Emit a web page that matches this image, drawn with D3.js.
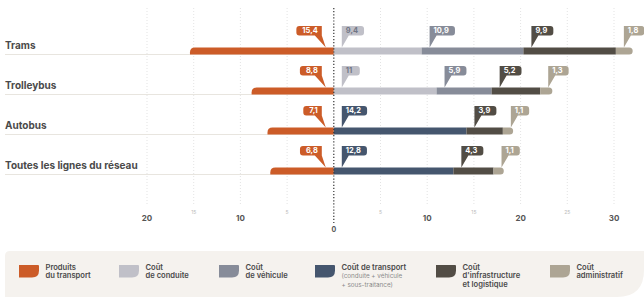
<!DOCTYPE html>
<html>
<head>
<meta charset="utf-8">
<script src="https://cdn.jsdelivr.net/npm/d3@7"></script>
<style>
  body { margin: 0; background: #fff; }
  svg { display: block; font-family: Inter, "DejaVu Sans", sans-serif; }
</style>
</head>
<body>
<div class="chart"></div>
<script>
var categories = ["Trams", "Trolleybus", "Autobus", "Toutes les lignes du réseau"];
var produits = [15.4, 8.8, 7.1, 6.8];
var conduite = [9.4, 11, null, null];
var vehicule = [10.9, 5.9, null, null];
var transport = [null, null, 14.2, 12.8];
var infra = [9.9, 5.2, 3.9, 4.3];
var admin = [1.8, 1.3, 1.1, 1.1];
var ticksMajor = [-20, -10, 10, 20, 30];
var ticksMinor = [-15, -5, 5, 15, 25];

var series = [
  { key: "conduite", values: conduite, color: "#C0C0C8", text: "#707585" },
  { key: "vehicule", values: vehicule, color: "#878C99", text: "#fff" },
  { key: "transport", values: transport, color: "#45566E", text: "#fff" },
  { key: "infra", values: infra, color: "#524D45", text: "#fff" },
  { key: "admin", values: admin, color: "#ADA594", text: "#fff" }
];
var orange = "#CC5C28";

var legend = [
  { color: orange, x: 19, lines: ["Produits", "du transport"], bold: 2 },
  { color: "#C0C0C8", x: 119, lines: ["Coût", "de conduite"], bold: 2 },
  { color: "#878C99", x: 219, lines: ["Coût", "de véhicule"], bold: 2 },
  { color: "#45566E", x: 315, lines: ["Coût de transport", "(conduite + véhicule", "+ sous-traitance)"], bold: 1 },
  { color: "#524D45", x: 436, lines: ["Coût", "d'infrastructure", "et logistique"], bold: 3 },
  { color: "#ADA594", x: 550, lines: ["Coût", "administratif"], bold: 2 }
];

var width = 644, height = 297;
var svg = d3.select(".chart").append("svg")
  .attr("width", width).attr("height", height);

var x = d3.scaleLinear().domain([-20, 30]).range([147, 614]);
var y = d3.scalePoint().domain(categories).range([51, 171]);
var barH = 7;
var fmt = function (v) { return String(v).replace(".", ","); };

// grid
svg.append("g").selectAll("line")
  .data(ticksMajor.concat(ticksMinor))
  .enter().append("line")
  .attr("x1", function (d) { return x(d); })
  .attr("x2", function (d) { return x(d); })
  .attr("y1", 8).attr("y2", 206)
  .style("stroke", "#dcdcdc")
  .style("stroke-width", 0.8)
  .style("stroke-dasharray", "1,2");

svg.append("g").selectAll("text")
  .data(ticksMajor)
  .enter().append("text")
  .attr("x", function (d) { return x(d); })
  .attr("y", 221)
  .attr("text-anchor", "middle")
  .style("font-size", "8px").style("font-weight", 700).style("fill", "#555")
  .text(function (d) { return Math.abs(d); });

svg.append("g").selectAll("text")
  .data(ticksMinor)
  .enter().append("text")
  .attr("x", function (d) { return x(d); })
  .attr("y", 213.5)
  .attr("text-anchor", "middle")
  .style("font-size", "5px").style("fill", "#bbb")
  .text(function (d) { return Math.abs(d); });

// row separators and labels
var rows = svg.append("g").selectAll("g").data(categories).enter().append("g");
rows.append("line")
  .attr("x1", 5).attr("x2", x(0))
  .attr("y1", function (d) { return y(d) + barH / 2; })
  .attr("y2", function (d) { return y(d) + barH / 2; })
  .style("stroke", "#e8e5df").style("stroke-width", 1);
rows.append("text")
  .attr("x", 5)
  .attr("y", function (d) { return y(d) - 2; })
  .style("font-size", "10px").style("font-weight", 700).style("fill", "#4a4a4a")
  .text(function (d) { return d; });

// orange bars (left)
svg.append("g").selectAll("path")
  .data(produits)
  .enter().append("path")
  .attr("d", function (d, i) {
    var x0 = x(-d), x1 = x(0), t = y(categories[i]) - barH / 2, r = 5;
    return "M" + x1 + "," + t + "H" + (x0 + r) + "Q" + x0 + "," + t + " " + x0 + "," + (t + r) +
      "V" + (t + barH) + "H" + x1 + "Z";
  })
  .style("fill", orange);

// stacked bars (right)
var segs = [];
categories.forEach(function (c, i) {
  var acc = 0, list = [];
  series.forEach(function (s) {
    var v = s.values[i];
    if (v == null) return;
    list.push({ cat: c, v: v, x0: acc, x1: acc + v, color: s.color, text: s.text });
    acc += v;
  });
  list[list.length - 1].last = true;
  segs = segs.concat(list);
});

svg.append("g").selectAll("path")
  .data(segs)
  .enter().append("path")
  .attr("d", function (d) {
    var a = x(d.x0), b = x(d.x1), t = y(d.cat) - barH / 2, r = barH / 2;
    if (!d.last) return "M" + a + "," + t + "H" + b + "V" + (t + barH) + "H" + a + "Z";
    return "M" + a + "," + t + "H" + (b - r) + "A" + r + "," + r + " 0 0 1 " + (b - r) + "," + (t + barH) +
      "H" + a + "Z";
  })
  .style("fill", function (d) { return d.color; });

// zero line
svg.append("line")
  .attr("x1", x(0)).attr("x2", x(0))
  .attr("y1", 8).attr("y2", 225)
  .style("stroke", "#333").style("stroke-width", 1.2)
  .style("stroke-dasharray", "1.2,1.9");
svg.append("text")
  .attr("x", x(0)).attr("y", 232)
  .attr("text-anchor", "middle")
  .style("font-size", "7px").style("font-weight", 700).style("fill", "#555")
  .text("0");

// flags
function flagPath(left, top, w, h, tipX, tipY, side) {
  var r = 3, b = top + h;
  if (side === "right") {
    return "M" + left + "," + top + "H" + (left + w - r) +
      "Q" + (left + w) + "," + top + " " + (left + w) + "," + (top + r) +
      "V" + (b - r) + "Q" + (left + w) + "," + b + " " + (left + w - r) + "," + b +
      "H" + (left + 7) + "L" + tipX + "," + tipY + "L" + left + "," + b + "Z";
  }
  var right = left + w;
  return "M" + right + "," + top + "H" + (left + r) +
    "Q" + left + "," + top + " " + left + "," + (top + r) +
    "V" + (b - r) + "Q" + left + "," + b + " " + (left + r) + "," + b +
    "H" + (right - 7) + "L" + tipX + "," + tipY + "L" + right + "," + b + "Z";
}

var flags = svg.append("g");
function addFlag(anchor, val, color, txtColor, side, cy) {
  var g = flags.append("g");
  var t = g.append("text")
    .attr("y", cy - 18)
    .style("font-size", "7.5px").style("font-weight", 700).style("fill", txtColor)
    .text(fmt(val));
  var tw = t.node().getComputedTextLength();
  var w = Math.max(18, tw + 10), top = cy - 25, h = 9.5, left;
  var tipY = cy - barH / 2;
  if (side === "right") {
    left = anchor + 8;
    g.insert("path", "text").attr("d", flagPath(left, top, w, h, left, tipY, side)).style("fill", color);
    t.attr("x", left + 4);
  } else {
    left = anchor - 12 - w;
    g.insert("path", "text").attr("d", flagPath(left, top, w, h, anchor - 8, tipY, side)).style("fill", color);
    t.attr("x", left + w - 4).attr("text-anchor", "end");
  }
}
produits.forEach(function (v, i) {
  addFlag(x(0), v, orange, "#fff", "left", y(categories[i]));
});
segs.forEach(function (d) {
  addFlag(x(d.x0), d.v, d.color, d.text, "right", y(d.cat));
});

// legend
svg.append("path")
  .attr("d", "M5,256Q5,251 10,251H644V270Q644,297 617,297H5Z")
  .style("fill", "#F5F2EE");
var lg = svg.append("g").selectAll("g").data(legend).enter().append("g");
lg.append("path")
  .attr("d", function (d) {
    var x0 = d.x, t = 265, w = 20, h = 12.5, r = 7;
    return "M" + x0 + "," + t + "H" + (x0 + w - 1) + "Q" + (x0 + w) + "," + t + " " + (x0 + w) + "," + (t + 1) +
      "V" + (t + h - r) + "Q" + (x0 + w) + "," + (t + h) + " " + (x0 + w - r) + "," + (t + h) +
      "H" + x0 + "Z";
  })
  .style("fill", function (d) { return d.color; });
lg.each(function (d) {
  var g = d3.select(this);
  d.lines.forEach(function (l, j) {
    var isBold = j < d.bold;
    g.append("text")
      .attr("x", d.x + 26.5)
      .attr("y", 270 + j * 8.4)
      .style("font-size", isBold ? "7.6px" : "6.3px")
      .style("font-weight", isBold ? 600 : 400)
      .style("fill", isBold ? "#4a4a4a" : "#8a8a8a")
      .text(l);
  });
});
</script>
</body>
</html>
